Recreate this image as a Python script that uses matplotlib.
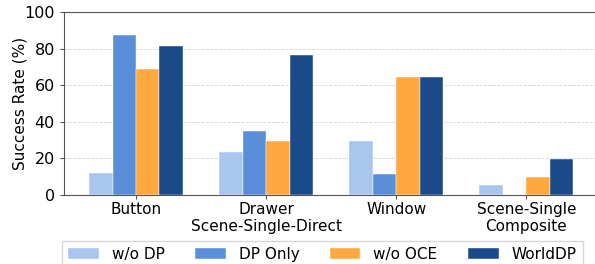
import numpy as np
import matplotlib
matplotlib.use("Agg")
import matplotlib.pyplot as plt

# categories and series
categories = ["Button", "Drawer\nScene-Single-Direct", "Window", "Scene-Single\nComposite"]
series_names = ["w/o DP", "DP Only", "w/o OCE", "WorldDP"]
wo_dp = [12.0, 23.5, 29.3, 5.6]
dp_only = [87.5, 35.0, 11.6, 0.0]
wo_oce = [68.8, 29.5, 64.5, 10.0]
worlddp = [81.4, 76.7, 64.5, 19.7]
colors = ["#A9C6EE", "#5B8ED8", "#FFA940", "#1A4A8A"]

plt.rcParams["font.family"] = "DejaVu Sans"
plt.rcParams["font.size"] = 11

fig = plt.figure(figsize=(5.95, 2.64), dpi=100)
ax = fig.add_axes([0.1076, 0.2614, 0.895, 0.692])

x = np.arange(len(categories))
width = 0.18
all_series = [wo_dp, dp_only, wo_oce, worlddp]
for i, (vals, name) in enumerate(zip(all_series, series_names)):
    ax.bar(x + (i - 1.5) * width, vals, width, color=colors[i], label=name,
           edgecolor="white", linewidth=0.3, zorder=3)

ax.set_xlim(-0.554, 3.54)
ax.set_ylim(0, 100)
ax.set_xticks(x)
ax.set_xticklabels(categories, fontsize=11)
ax.set_yticks([0, 20, 40, 60, 80, 100])
ax.tick_params(axis="y", labelsize=11.5)
ax.tick_params(axis="x", pad=2)
ax.set_ylabel("Success Rate (%)", fontsize=11, labelpad=-2)
ax.grid(axis="y", linestyle="--", color="#cccccc", linewidth=0.6, alpha=0.8, zorder=0)
for s in ["left", "bottom", "top", "right"]:
    ax.spines[s].set_color("#555555")
ax.tick_params(colors="#555555", labelcolor="black", length=3)

fig.legend(loc="upper left", bbox_to_anchor=(0.104, 0.088), ncol=4, fontsize=11,
           frameon=True, fancybox=False, edgecolor="#cccccc", handlelength=2.0,
           handletextpad=0.85, columnspacing=2.0, borderaxespad=0)

fig.savefig("out.png", dpi=100)
